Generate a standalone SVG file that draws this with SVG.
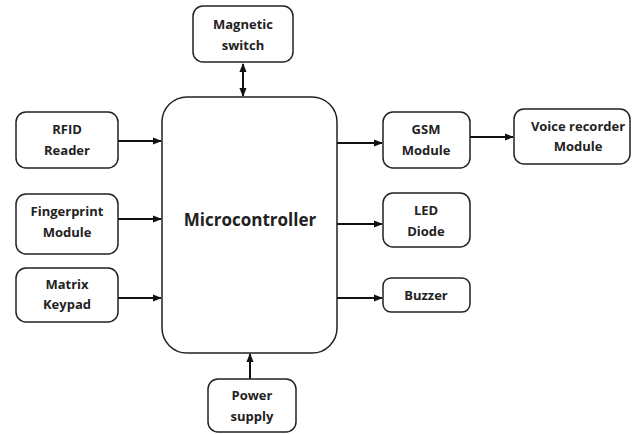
<svg xmlns="http://www.w3.org/2000/svg" width="634" height="434" viewBox="0 0 634 434">
<style>
.box{fill:#fff;stroke:#222;stroke-width:1.5}
.t{font-family:"Open Sans","Liberation Sans",sans-serif;font-weight:bold;font-size:13px;fill:#222;text-anchor:middle}
.big{font-size:17px}
.c{stroke:#111;stroke-width:2;fill:none}
</style>
<defs>
<marker id="ah" viewBox="0 0 10 10" refX="9" refY="5" markerWidth="4.5" markerHeight="4.5" orient="auto-start-reverse" markerUnits="strokeWidth">
<path d="M0,1 L10,5 L0,9 Z" fill="#111"/>
</marker>
</defs>
<g id="connectors">
<line class="c" x1="243" y1="64" x2="243" y2="96" marker-start="url(#ah)" marker-end="url(#ah)"/>
<line class="c" x1="118" y1="141" x2="161" y2="141" marker-end="url(#ah)"/>
<line class="c" x1="118" y1="219" x2="161" y2="219" marker-end="url(#ah)"/>
<line class="c" x1="118" y1="298" x2="161" y2="298" marker-end="url(#ah)"/>
<line class="c" x1="337" y1="143" x2="382" y2="143" marker-end="url(#ah)"/>
<line class="c" x1="337" y1="224" x2="382" y2="224" marker-end="url(#ah)"/>
<line class="c" x1="337" y1="298" x2="382" y2="298" marker-end="url(#ah)"/>
<line class="c" x1="470" y1="137" x2="513" y2="137" marker-end="url(#ah)"/>
<line class="c" x1="250" y1="379" x2="250" y2="354" marker-end="url(#ah)"/>
</g>
<g id="magnetic">
<rect class="box" x="193" y="6" width="100" height="56" rx="10"/>
<text class="t" x="243" y="29">Magnetic</text>
<text class="t" x="243" y="50">switch</text>
</g>
<g id="rfid">
<rect class="box" x="16" y="112" width="102" height="56" rx="10"/>
<text class="t" x="67" y="134">RFID</text>
<text class="t" x="67" y="155">Reader</text>
</g>
<g id="fingerprint">
<rect class="box" x="16" y="194" width="102" height="60" rx="10"/>
<text class="t" x="67" y="216">Fingerprint</text>
<text class="t" x="67" y="237">Module</text>
</g>
<g id="matrix">
<rect class="box" x="16" y="268" width="102" height="54" rx="10"/>
<text class="t" x="67" y="289">Matrix</text>
<text class="t" x="67" y="309">Keypad</text>
</g>
<g id="micro">
<rect class="box" x="162" y="97" width="175" height="256" rx="25"/>
<text class="t big" x="250" y="226">Microcontroller</text>
</g>
<g id="gsm">
<rect class="box" x="383" y="112" width="87" height="56" rx="10"/>
<text class="t" x="426" y="134">GSM</text>
<text class="t" x="426" y="155">Module</text>
</g>
<g id="voice">
<rect class="box" x="514" y="109" width="116" height="55" rx="10"/>
<text class="t" x="578" y="131">Voice recorder</text>
<text class="t" x="578" y="151">Module</text>
</g>
<g id="led">
<rect class="box" x="383" y="193" width="87" height="54" rx="10"/>
<text class="t" x="426" y="215">LED</text>
<text class="t" x="426" y="236">Diode</text>
</g>
<g id="buzzer">
<rect class="box" x="383" y="278" width="87" height="34" rx="8"/>
<text class="t" x="426" y="300">Buzzer</text>
</g>
<g id="power">
<rect class="box" x="208" y="379" width="88" height="53" rx="10"/>
<text class="t" x="252" y="400">Power</text>
<text class="t" x="252" y="421">supply</text>
</g>
</svg>
